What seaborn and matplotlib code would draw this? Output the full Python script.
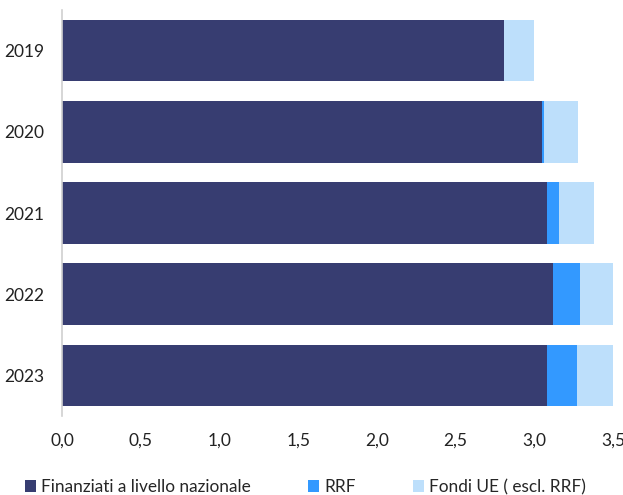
import numpy as np
import pandas as pd
import matplotlib
matplotlib.use("Agg")
import matplotlib.pyplot as plt
from matplotlib.patches import Patch
import seaborn as sns

years = ["2019", "2020", "2021", "2022", "2023"]
nazionale = [2.81, 3.05, 3.08, 3.12, 3.08]
rrf = [0.00, 0.01, 0.08, 0.17, 0.19]
fondi_ue = [0.19, 0.22, 0.22, 0.21, 0.23]
x_ticks = [0.0, 0.5, 1.0, 1.5, 2.0, 2.5, 3.0, 3.5]
x_tick_labels = ["0,0", "0,5", "1,0", "1,5", "2,0", "2,5", "3,0", "3,5"]

labels = ["Finanziati a livello nazionale", "RRF", "Fondi UE ( escl. RRF)"]
colors = ["#373D71", "#3399FF", "#BDDFFB"]

sns.set_theme(style="white")
plt.rcParams["font.family"] = ["Lato", "DejaVu Sans"]

df = pd.DataFrame({"anno": years, "naz": nazionale, "rrf": rrf, "ue": fondi_ue})
df["c_rrf"] = df["naz"] + df["rrf"]
df["c_ue"] = df["c_rrf"] + df["ue"]

W, H = 623, 495
fig = plt.figure(figsize=(W / 100, H / 100), dpi=100)
ax = fig.add_axes([62 / W, 1 - 416 / H, 551 / W, 406 / H])

# stacked bars: draw cumulative totals from the outermost layer inwards
for col, color in [("c_ue", colors[2]), ("c_rrf", colors[1]), ("naz", colors[0])]:
    sns.barplot(data=df, y="anno", x=col, orient="h", color=color,
                width=0.76, saturation=1, ax=ax, edgecolor="none")

ax.set_xlim(0, 3.5)
ax.set_xticks(x_ticks)
ax.set_xticklabels(x_tick_labels, fontsize=12.5, color="#222222")
ax.tick_params(axis="y", labelsize=12.5, labelcolor="#222222", length=0, pad=13)
ax.tick_params(axis="x", length=0, pad=12)
ax.set_xlabel("")
ax.set_ylabel("")
for s in ["top", "right", "bottom"]:
    ax.spines[s].set_visible(False)
ax.spines["left"].set_color("#D0D0D0")
ax.spines["left"].set_linewidth(1.2)

# legend entries placed individually along the bottom
legend_x = [25, 308, 413]
for lab, c, lx in zip(labels, colors, legend_x):
    fig.legend([Patch(facecolor=c, edgecolor="none")], [lab],
               loc="center left", bbox_to_anchor=(lx / W, 1 - 487 / H),
               frameon=False, fontsize=12.4, handlelength=0.65,
               handleheight=0.65, handletextpad=0.3,
               borderpad=0, borderaxespad=0)

fig.savefig("out.png", dpi=100)
